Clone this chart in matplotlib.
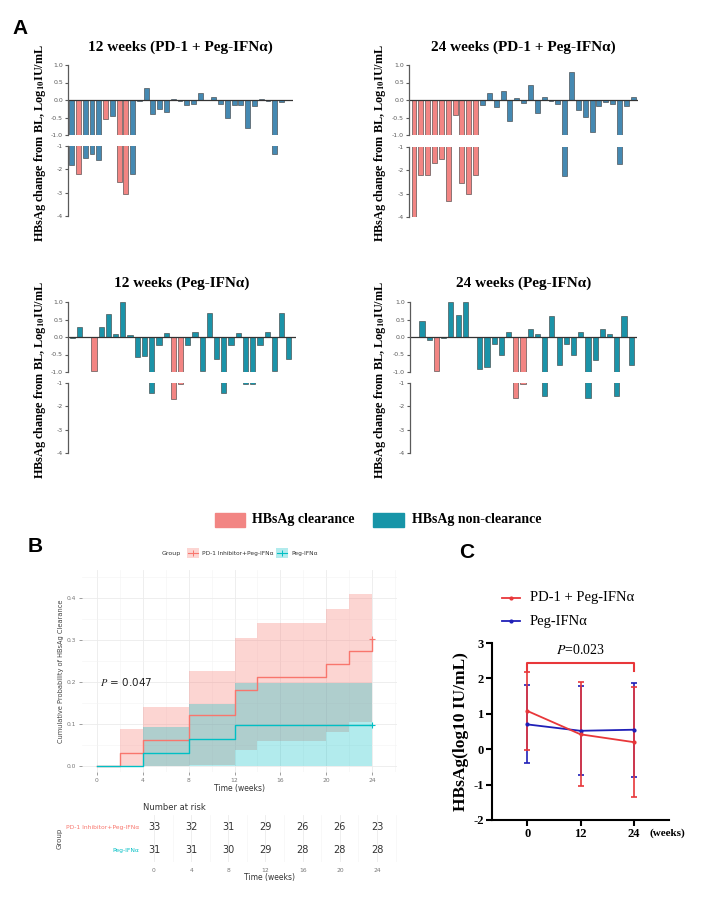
import matplotlib
matplotlib.use("Agg")
import matplotlib.pyplot as plt
from matplotlib.patches import Rectangle
from matplotlib.lines import Line2D

plt.rcParams['mathtext.fontset'] = 'stix'
plt.rcParams['axes.unicode_minus'] = False

# panel A: HBsAg change from baseline (log10 IU/mL), one bar per patient
pd1_12w = [-1.8, -2.2, -1.5, -1.35, -1.6, -0.55, -0.45, -2.55, -3.05, -2.2, -0.02, 0.35,
           -0.4, -0.27, -0.35, 0.02, -0.02, -0.15, -0.12, 0.2, 0.0, 0.08, -0.12, -0.52,
           -0.15, -0.15, -0.8, -0.17, 0.03, -0.04, -1.35, -0.06]
pd1_12w_clear = [1, 5, 7, 8]
pd1_24w = [-4.0, -2.2, -2.2, -1.7, -1.5, -3.3, -0.43, -2.55, -3.0, -2.2, -0.13, 0.2,
           -0.2, 0.25, -0.6, 0.05, -0.08, 0.42, -0.38, 0.1, -0.02, -0.1, -2.25, 0.8,
           -0.28, -0.48, -0.9, -0.18, -0.06, -0.1, -1.73, -0.18, 0.1]
pd1_24w_clear = [0, 1, 2, 3, 4, 5, 6, 7, 8, 9]
peg_12w = [-0.03, 0.28, -0.01, -0.97, 0.28, 0.65, 0.1, 1.0, 0.05, -0.57, -0.54, -1.45,
           -0.23, 0.12, -1.67, -1.03, -0.23, 0.14, -0.97, 0.69, -0.64, -1.45, -0.23, 0.12,
           -1.03, -1.03, -0.23, 0.14, -0.97, 0.69, -0.64]
peg_12w_clear = [3, 14, 15]
peg_24w = [0.45, -0.08, -0.97, -0.02, 1.0, 0.62, 1.0, 0.0, -0.92, -0.85, -0.2, -0.5,
           0.13, -1.65, -1.03, 0.22, 0.1, -1.55, 0.6, -0.8, -0.2, -0.5, 0.13, -1.65,
           -0.65, 0.22, 0.1, -1.55, 0.6, -0.8]
peg_24w_clear = [2, 13, 14]

# panel B: cumulative incidence of HBsAg clearance
km_t_pd1 = [0, 2, 4, 8, 12, 14, 20, 22, 24]
km_p_pd1 = [0, 0.030, 0.061, 0.121, 0.182, 0.212, 0.242, 0.273, 0.303]
km_hi_pd1 = [0, 0.088, 0.14, 0.227, 0.305, 0.34, 0.375, 0.41, 0.41]
km_lo_pd1 = [0, 0, 0, 0.002, 0.038, 0.06, 0.082, 0.104, 0.104]
km_t_peg = [0, 4, 8, 12, 24]
km_p_peg = [0, 0.032, 0.065, 0.097, 0.097]
km_hi_peg = [0, 0.093, 0.148, 0.197, 0.197]
km_lo_peg = [0, 0, 0, 0, 0]
risk_times = [0, 4, 8, 12, 16, 20, 24]
risk_pd1 = [33, 32, 31, 29, 26, 26, 23]
risk_peg = [31, 31, 30, 29, 28, 28, 28]

# panel C: HBsAg level mean +/- SD
c_weeks = [0, 12, 24]
c_pd1_mean = [1.08, 0.42, 0.2]
c_pd1_sd = [1.09, 1.47, 1.55]
c_peg_mean = [0.7, 0.52, 0.55]
c_peg_sd = [1.1, 1.26, 1.33]

RED = '#f28583'
BLUE_A = '#4589b2'
TEAL_A = '#1b93a8'
KM_RED = '#F8766D'
KM_TEAL = '#00BFC4'
SERIF = 'Liberation Serif'
SANS = 'Liberation Sans'

W, H = 720, 899
fig = plt.figure(figsize=(7.2, 8.99), dpi=100)


def add_ax(x0, y0, x1, y1):
    # pixel box (top-left origin) -> figure axes
    return fig.add_axes([x0 / W, 1 - y1 / H, (x1 - x0) / W, (y1 - y0) / H])


def fx(x):
    return x / W


def fy(y):
    return 1 - y / H


def waterfall(vals, clear, color, x0, x1, ytop, ylow, xlim, title, ty, lab_x):
    up = add_ax(x0, ytop, x1, ytop + 70)
    lo = add_ax(x0, ylow, x1, ylow + 70)
    xs = list(range(len(vals)))
    cols = [RED if i in clear else color for i in xs]
    for ax in (up, lo):
        ax.bar(xs, vals, width=0.72, color=cols, edgecolor='#3a3a3a', linewidth=0.4)
        ax.set_xlim(xlim)
        ax.set_xticks([])
        for s in ('top', 'right', 'bottom'):
            ax.spines[s].set_visible(False)
        ax.spines['left'].set_color('#5a5a5a')
        ax.spines['left'].set_linewidth(0.9)
        ax.tick_params(axis='y', labelsize=4.5, colors='#5a5a5a', length=2.5, width=0.8, pad=1)
        ax.patch.set_alpha(0)
    up.set_ylim(-1, 1)
    up.set_yticks([-1, -0.5, 0, 0.5, 1])
    up.set_yticklabels(['-1.0', '-0.5', '0.0', '0.5', '1.0'])
    up.axhline(0, color='#333333', lw=0.9)
    lo.set_ylim(-4, -1)
    lo.set_yticks([-1, -2, -3, -4])
    lo.set_yticklabels(['-1', '-2', '-3', '-4'])
    fig.text(fx((x0 + x1) / 2), fy(ty), title, ha='center', va='center',
             family=SERIF, weight='bold', fontsize=11)
    fig.text(fx(lab_x), fy((ytop + ylow + 70) / 2 + 2),
             r'HBsAg change from BL, Log$_{\mathbf{10}}$IU/mL',
             rotation=90, ha='center', va='center', family=SERIF, weight='bold', fontsize=8.8)


waterfall(pd1_12w, pd1_12w_clear, BLUE_A, 68, 293, 65, 146, (-0.55, 32.7),
          '12 weeks (PD-1 + Peg-IFNα)', 47, 40)
waterfall(pd1_24w, pd1_24w_clear, BLUE_A, 409, 638, 65, 147, (-0.73, 32.7),
          '24 weeks (PD-1 + Peg-IFNα)', 47, 380)
waterfall(peg_12w, peg_12w_clear, TEAL_A, 68, 296, 302, 383, (-0.6, 31.0),
          '12 weeks (Peg-IFNα)', 283, 40)
waterfall(peg_24w, peg_24w_clear, TEAL_A, 410, 637, 302, 383, (-1.67, 29.8),
          '24 weeks (Peg-IFNα)', 283, 380)

# legend of panel A
fig.patches.append(Rectangle((fx(215), fy(527)), 30 / W, 14 / H, color=RED, transform=fig.transFigure))
fig.text(fx(252), fy(520), 'HBsAg clearance', family=SERIF, weight='bold', fontsize=10, va='center')
fig.patches.append(Rectangle((fx(373), fy(527)), 31 / W, 14 / H, color='#1795a8', transform=fig.transFigure))
fig.text(fx(412), fy(520), 'HBsAg non-clearance', family=SERIF, weight='bold', fontsize=10, va='center')

# panel letters
fig.text(fx(12), fy(28), 'A', family=SANS, weight='bold', fontsize=15, va='center')
fig.text(fx(28), fy(546), 'B', family=SANS, weight='bold', fontsize=15, va='center')
fig.text(fx(467), fy(552), 'C', family=SANS, weight='bold', fontsize=15, va='center', ha='center')

# ---- panel B: cumulative incidence
km = add_ax(82, 570, 397, 772)
km.fill_between(km_t_pd1, km_lo_pd1, km_hi_pd1, step='post', color=KM_RED, alpha=0.3, lw=0)
km.fill_between(km_t_peg, km_lo_peg, km_hi_peg, step='post', color=KM_TEAL, alpha=0.3, lw=0)
km.step(km_t_pd1, km_p_pd1, where='post', color=KM_RED, lw=1)
km.step(km_t_peg, km_p_peg, where='post', color=KM_TEAL, lw=1)
km.plot([km_t_pd1[-1]], [km_p_pd1[-1]], marker='+', color=KM_RED, ms=5, mew=0.8)
km.plot([km_t_peg[-1]], [km_p_peg[-1]], marker='+', color=KM_TEAL, ms=5, mew=0.8)
km.set_xlim(-1.3, 26.17)
km.set_ylim(-0.0143, 0.4667)
km.set_xticks([0, 4, 8, 12, 16, 20, 24])
km.set_xticks([2, 6, 10, 14, 18, 22, 26], minor=True)
km.set_yticks([0, 0.1, 0.2, 0.3, 0.4])
km.set_yticklabels(['0.0', '0.1', '0.2', '0.3', '0.4'])
km.set_yticks([0.05, 0.15, 0.25, 0.35, 0.45], minor=True)
km.grid(which='major', color='#ebebeb', lw=0.6)
km.grid(which='minor', color='#f3f3f3', lw=0.4)
km.set_axisbelow(True)
for s in km.spines.values():
    s.set_visible(False)
km.tick_params(which='major', labelsize=4.3, colors='#777777', length=2, width=0.5, pad=2)
km.tick_params(which='minor', length=0)
km.set_xlabel('Time (weeks)', fontsize=5.5, color='#333333', labelpad=1)
km.set_ylabel('Cumulative Probability of HBsAg Clearance', fontsize=4.8, color='#444444', labelpad=2)
km.text(0.25, 0.2, r'$\it{P}$ = 0.047', fontsize=7.5, va='center', color='#222222')

# legend of panel B
fig.text(fx(162), fy(553), 'Group', fontsize=4.5, color='#333333', va='center')
for kx, col, lab in [(187, KM_RED, 'PD-1 Inhibitor+Peg-IFNα'), (276, KM_TEAL, 'Peg-IFNα')]:
    fig.patches.append(Rectangle((fx(kx), fy(558)), 12 / W, 10 / H, color=col, alpha=0.3,
                                 transform=fig.transFigure, lw=0))
    fig.add_artist(Line2D([fx(kx + 1), fx(kx + 11)], [fy(553), fy(553)], color=col, lw=0.8,
                          transform=fig.transFigure))
    fig.add_artist(Line2D([fx(kx + 6)], [fy(553)], marker='+', ms=4, mew=0.7, color=col,
                          transform=fig.transFigure))
    fig.text(fx(kx + 15), fy(553), lab, fontsize=4.2, color='#333333', va='center')

# risk table
rt = add_ax(143, 815, 397, 862)
rt.set_xlim(-1.18, 26.15)
rt.set_ylim(-0.5, 1.5)
for t, a, b in zip(risk_times, risk_pd1, risk_peg):
    rt.text(t, 1, str(a), ha='center', va='center', fontsize=7, color='#333333')
    rt.text(t, 0, str(b), ha='center', va='center', fontsize=7, color='#333333')
rt.set_xticks(risk_times)
rt.set_xticks([2, 6, 10, 14, 18, 22, 26], minor=True)
rt.set_yticks([1, 0])
rt.set_yticklabels(['PD-1 Inhibitor+Peg-IFNα', 'Peg-IFNα'])
for lbl, col in zip(rt.get_yticklabels(), [KM_RED, KM_TEAL]):
    lbl.set_color(col)
rt.grid(axis='x', which='major', color='#ebebeb', lw=0.6)
rt.grid(axis='x', which='minor', color='#f3f3f3', lw=0.4)
rt.set_axisbelow(True)
for s in rt.spines.values():
    s.set_visible(False)
rt.tick_params(axis='y', labelsize=4.3, length=0, pad=3)
rt.tick_params(axis='x', which='both', labelsize=4.3, colors='#777777', length=0, pad=4)
rt.set_xlabel('Time (weeks)', fontsize=5.5, color='#333333', labelpad=0)
rt.set_ylabel('Group', fontsize=5, color='#444444', labelpad=2)
fig.text(fx(143), fy(807), 'Number at risk', fontsize=6, color='#333333', va='center')

# ---- panel C: HBsAg levels over time
C_RED = '#e8373a'
C_BLUE = '#2020b8'
ax = add_ax(492, 643, 669, 820)
ax.errorbar(c_weeks, c_peg_mean, yerr=c_peg_sd, color=C_BLUE, lw=1.3, marker='o', ms=2,
            capsize=2.5, elinewidth=1.2, capthick=1.2)
ax.errorbar(c_weeks, c_pd1_mean, yerr=c_pd1_sd, color=C_RED, lw=1.3, marker='o', ms=2,
            capsize=2.5, elinewidth=1.2, capthick=1.2)
ax.plot([0, 0, 24, 24], [2.2, 2.44, 2.44, 2.2], color=C_RED, lw=1.5)
ax.text(12, 2.6, r'$\it{P}$=0.023', ha='center', va='bottom', family=SERIF, fontsize=10)
ax.set_xlim(-8, 32)
ax.set_ylim(-2, 3)
ax.set_xticks(c_weeks)
ax.set_yticks([-2, -1, 0, 1, 2, 3])
for s in ('top', 'right'):
    ax.spines[s].set_visible(False)
for s in ('left', 'bottom'):
    ax.spines[s].set_linewidth(1.5)
ax.tick_params(length=4, width=1.5, pad=2)
for lbl in ax.get_xticklabels() + ax.get_yticklabels():
    lbl.set_family(SERIF)
    lbl.set_weight('bold')
    lbl.set_fontsize(9)
ax.set_ylabel('HBsAg(log10 IU/mL)', family=SERIF, weight='bold', fontsize=12.5, labelpad=3)
fig.text(fx(667), fy(833), '(weeks)', family=SERIF, weight='bold', fontsize=8, ha='center', va='center')

# legend of panel C
for ly, col, lab in [(598, C_RED, 'PD-1 + Peg-IFNα'), (621, C_BLUE, 'Peg-IFNα')]:
    fig.add_artist(Line2D([fx(502), fx(520)], [fy(ly), fy(ly)], color=col, lw=1.3,
                          transform=fig.transFigure))
    fig.add_artist(Line2D([fx(511)], [fy(ly)], marker='o', ms=2, color=col,
                          transform=fig.transFigure))
    fig.text(fx(530), fy(ly), lab, family=SERIF, fontsize=10.5, va='center')

fig.savefig('out.png', dpi=100)
